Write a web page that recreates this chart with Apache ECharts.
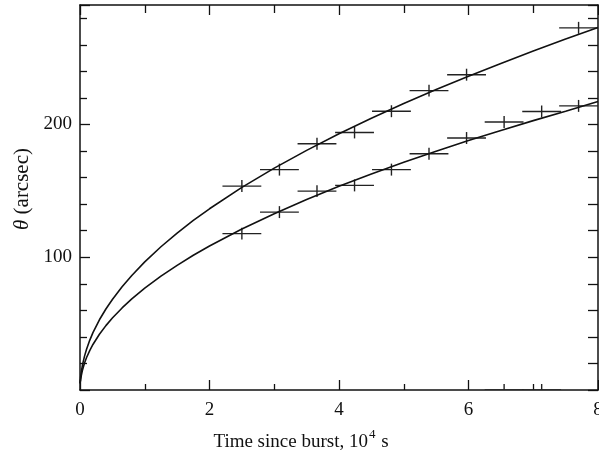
<!DOCTYPE html>
<html>
<head>
<meta charset="utf-8">
<script src="https://cdn.jsdelivr.net/npm/echarts@6/dist/echarts.min.js"></script>
<style>
html,body{margin:0;padding:0;background:#fff;}
#chart{width:599px;height:454px;}
</style>
</head>
<body>
<div id="chart"></div>
<script>
// Measured points (time in 1e4 s, theta in arcsec)
var pointT = [2.50, 3.08, 3.66, 4.24, 4.81, 5.39, 5.97, 6.55, 7.13, 7.70];
var upperTheta = [153.6, 166.0, 185.5, 194.0, 210.0, 225.5, 237.5, 0, 0, 272.8];
var lowerTheta = [117.8, 134.0, 149.8, 154.1, 166.0, 177.9, 189.8, 201.9, 209.8, 214.0];
var timeErr = 0.3;
var thetaErr = 4.5;

// Model curves
var curveT = [0, 0.01, 0.02, 0.04, 0.07, 0.1, 0.15, 0.2, 0.3, 0.4, 0.5, 0.65, 0.8, 1, 1.25, 1.5, 1.75, 2, 2.5, 3, 3.5, 4, 4.5, 5, 5.5, 6, 6.5, 7, 7.5, 8];
var upperCurve = [5, 9.7, 13.6, 19.3, 25.5, 30.5, 37.4, 43.2, 52.9, 61.0, 68.2, 77.8, 86.3, 96.5, 107.9, 118.2, 127.7, 136.5, 152.6, 167.1, 180.5, 193.0, 204.7, 215.8, 226.3, 236.4, 246.0, 255.3, 264.3, 273.0];
var lowerCurve = [5, 7.7, 10.8, 15.3, 20.3, 24.3, 29.7, 34.3, 42.0, 48.5, 54.2, 61.8, 68.6, 76.7, 85.8, 93.9, 101.5, 108.5, 121.3, 132.8, 143.5, 153.4, 162.7, 171.5, 179.9, 187.9, 195.5, 202.9, 210.0, 217.3];

var yLabels = [100, 200];
var xLabels = [0, 2, 4, 6, 8];

function zip(a, b) { return a.map(function (v, i) { return [v, b[i]]; }); }
function errData(ys) { return pointT.map(function (t, i) { return [t, ys[i], timeErr, thetaErr]; }); }

var FONT = '"Liberation Serif", "DejaVu Serif", serif';
var INK = '#111';

function renderCross(params, api) {
  var x = api.value(0), y = api.value(1), ex = api.value(2), ey = api.value(3);
  var c = api.coord([x, y]);
  var l = api.coord([x - ex, y]), r = api.coord([x + ex, y]);
  var t = api.coord([x, y + ey]), b = api.coord([x, y - ey]);
  var cs = params.coordSys;
  function cx(v) { return Math.max(cs.x, Math.min(cs.x + cs.width, v)); }
  function cy(v) { return Math.max(cs.y, Math.min(cs.y + cs.height, v)); }
  var st = { stroke: '#222', lineWidth: 1.4 };
  return {
    type: 'group',
    children: [
      { type: 'line', shape: { x1: cx(l[0]), y1: cy(c[1]), x2: cx(r[0]), y2: cy(c[1]) }, style: st },
      { type: 'line', shape: { x1: c[0], y1: cy(t[1]), x2: c[0], y2: cy(b[1]) }, style: st }
    ]
  };
}

var axisLine = { show: true, onZero: false, lineStyle: { color: INK, width: 1.5 } };
function ticks(len) { return { show: true, inside: true, length: len, lineStyle: { color: INK, width: 1.3 } }; }
function minor(n, len) { return { show: true, splitNumber: n, length: len, lineStyle: { color: INK, width: 1.3 } }; }

var chart = echarts.init(document.getElementById('chart'), null, { renderer: 'canvas' });
chart.setOption({
  animation: false,
  backgroundColor: '#fff',
  grid: { left: 80, right: 1, top: 5, bottom: 64, containLabel: false, outerBoundsMode: 'none' },
  xAxis: [
    {
      type: 'value', position: 'bottom', min: 0, max: 8, interval: 2,
      axisLine: axisLine, axisTick: ticks(10), minorTick: minor(2, 6), splitLine: { show: false },
      axisLabel: {
        color: INK, fontFamily: FONT, fontSize: 19, margin: 11,
        formatter: function (v) { return xLabels.indexOf(v) >= 0 ? String(v) : ''; }
      },
      name: '{t|Time since burst, 10}{sup|4}{t| s}',
      nameLocation: 'middle', nameGap: 38,
      nameTextStyle: {
        color: INK, fontFamily: FONT, fontSize: 19, padding: [0, 76, 0, 0],
        rich: {
          t: { fontFamily: FONT, fontSize: 19, color: INK, verticalAlign: 'bottom', lineHeight: 24 },
          sup: { fontFamily: FONT, fontSize: 13, color: INK, verticalAlign: 'top', lineHeight: 14, padding: [0, 1, 0, 1] }
        }
      }
    },
    {
      type: 'value', position: 'top', min: 0, max: 8, interval: 2,
      axisLine: axisLine, axisTick: ticks(10), minorTick: minor(2, 8),
      axisLabel: { show: false }, splitLine: { show: false }
    }
  ],
  yAxis: [
    {
      type: 'value', position: 'left', min: 0, max: 290, interval: 100,
      axisLine: axisLine, axisTick: ticks(10), minorTick: minor(5, 7), splitLine: { show: false },
      axisLabel: {
        color: INK, fontFamily: FONT, fontSize: 19, margin: 8,
        formatter: function (v) { return yLabels.indexOf(v) >= 0 ? String(v) : ''; }
      },
      name: '{i|θ} (arcsec)',
      nameLocation: 'middle', nameGap: 46, nameRotate: 90,
      nameTextStyle: {
        color: INK, fontFamily: FONT, fontSize: 21, padding: [0, 0, 0, 17],
        rich: { i: { fontFamily: FONT, fontSize: 21, fontStyle: 'italic', color: INK } }
      }
    },
    {
      type: 'value', position: 'right', min: 0, max: 290, interval: 20,
      axisLine: axisLine, axisTick: ticks(10), axisLabel: { show: false }, splitLine: { show: false }
    }
  ],
  series: [
    { type: 'line', xAxisIndex: 0, yAxisIndex: 0, data: zip(curveT, upperCurve), showSymbol: false, smooth: false, lineStyle: { color: INK, width: 1.6 }, silent: true },
    { type: 'line', xAxisIndex: 0, yAxisIndex: 0, data: zip(curveT, lowerCurve), showSymbol: false, smooth: false, lineStyle: { color: INK, width: 1.6 }, silent: true },
    { type: 'custom', xAxisIndex: 0, yAxisIndex: 0, renderItem: renderCross, data: errData(upperTheta), silent: true, clip: true },
    { type: 'custom', xAxisIndex: 0, yAxisIndex: 0, renderItem: renderCross, data: errData(lowerTheta), silent: true, clip: true }
  ]
});
</script>
</body>
</html>
